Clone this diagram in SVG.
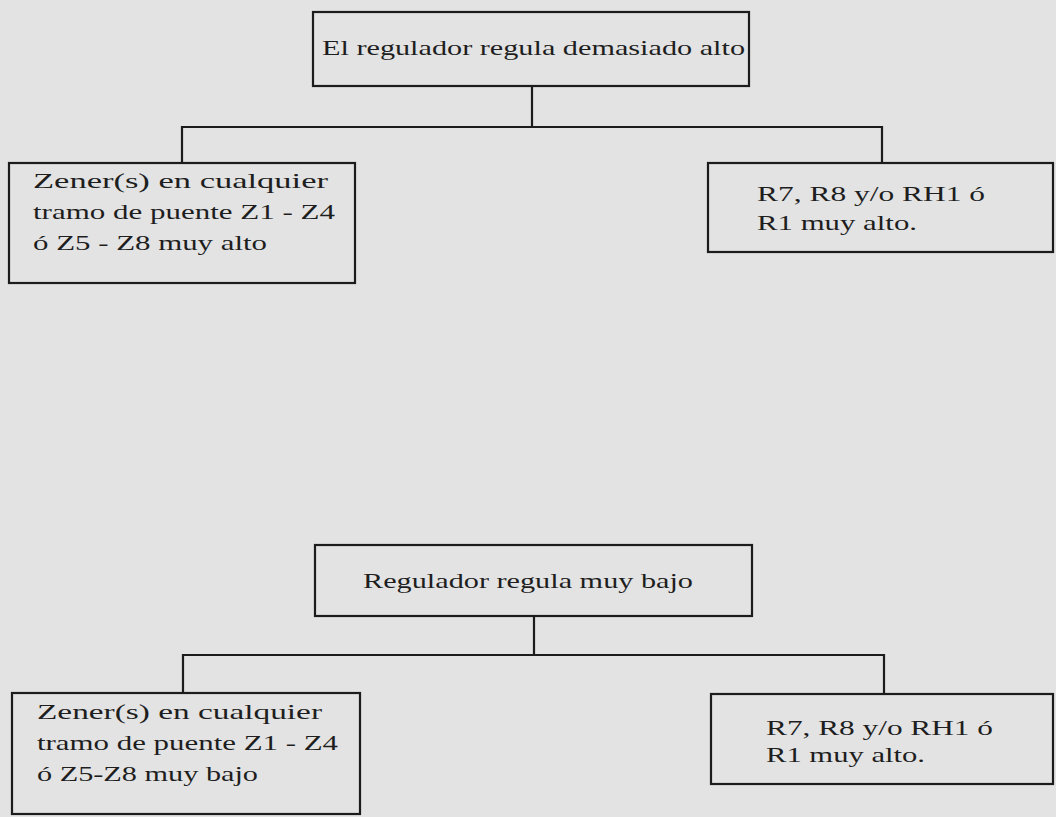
<svg xmlns="http://www.w3.org/2000/svg" width="1056" height="817" viewBox="0 0 1056 817">
<style>
.bg{fill:#e3e3e3}
.box{fill:none;stroke:#1c1c1c;stroke-width:2.2}
.ln{fill:none;stroke:#1c1c1c;stroke-width:2.2}
text{font-family:"Liberation Serif","Times New Roman",serif;font-size:22px;fill:#1e1e1e}
</style>
<rect class="bg" x="0" y="0" width="1056" height="817"/>
<g id="connectors">
<path class="ln" d="M532,86 V127 M182,163 V127 H882 V163"/>
<path class="ln" d="M534,616 V655 M183,693 V655 H884 V694"/>
</g>
<g id="n1">
<rect class="box" x="313" y="12" width="436" height="74"/>
<text x="322" y="55" textLength="423" lengthAdjust="spacingAndGlyphs">El regulador regula demasiado alto</text>
</g>
<g id="n2">
<rect class="box" x="9" y="163" width="346" height="120"/>
<text x="33" y="188" textLength="295" lengthAdjust="spacingAndGlyphs">Zener(s) en cualquier</text>
<text x="33" y="219" textLength="302" lengthAdjust="spacingAndGlyphs">tramo de puente Z1 - Z4</text>
<text x="33" y="250" textLength="234" lengthAdjust="spacingAndGlyphs">ó Z5 - Z8 muy alto</text>
</g>
<g id="n3">
<rect class="box" x="708" y="163" width="345" height="89"/>
<text x="757" y="201" textLength="228" lengthAdjust="spacingAndGlyphs">R7, R8 y/o RH1 ó</text>
<text x="757" y="230" textLength="160" lengthAdjust="spacingAndGlyphs">R1 muy alto.</text>
</g>
<g id="n4">
<rect class="box" x="315" y="545" width="437" height="71"/>
<text x="363" y="588" textLength="330" lengthAdjust="spacingAndGlyphs">Regulador regula muy bajo</text>
</g>
<g id="n5">
<rect class="box" x="12" y="693" width="348" height="121"/>
<text x="37" y="719" textLength="285" lengthAdjust="spacingAndGlyphs">Zener(s) en cualquier</text>
<text x="37" y="750" textLength="301" lengthAdjust="spacingAndGlyphs">tramo de puente Z1 - Z4</text>
<text x="37" y="781" textLength="221" lengthAdjust="spacingAndGlyphs">ó Z5-Z8 muy bajo</text>
</g>
<g id="n6">
<rect class="box" x="711" y="694" width="342" height="90"/>
<text x="766" y="735" textLength="227" lengthAdjust="spacingAndGlyphs">R7, R8 y/o RH1 ó</text>
<text x="766" y="762" textLength="159" lengthAdjust="spacingAndGlyphs">R1 muy alto.</text>
</g>
</svg>
